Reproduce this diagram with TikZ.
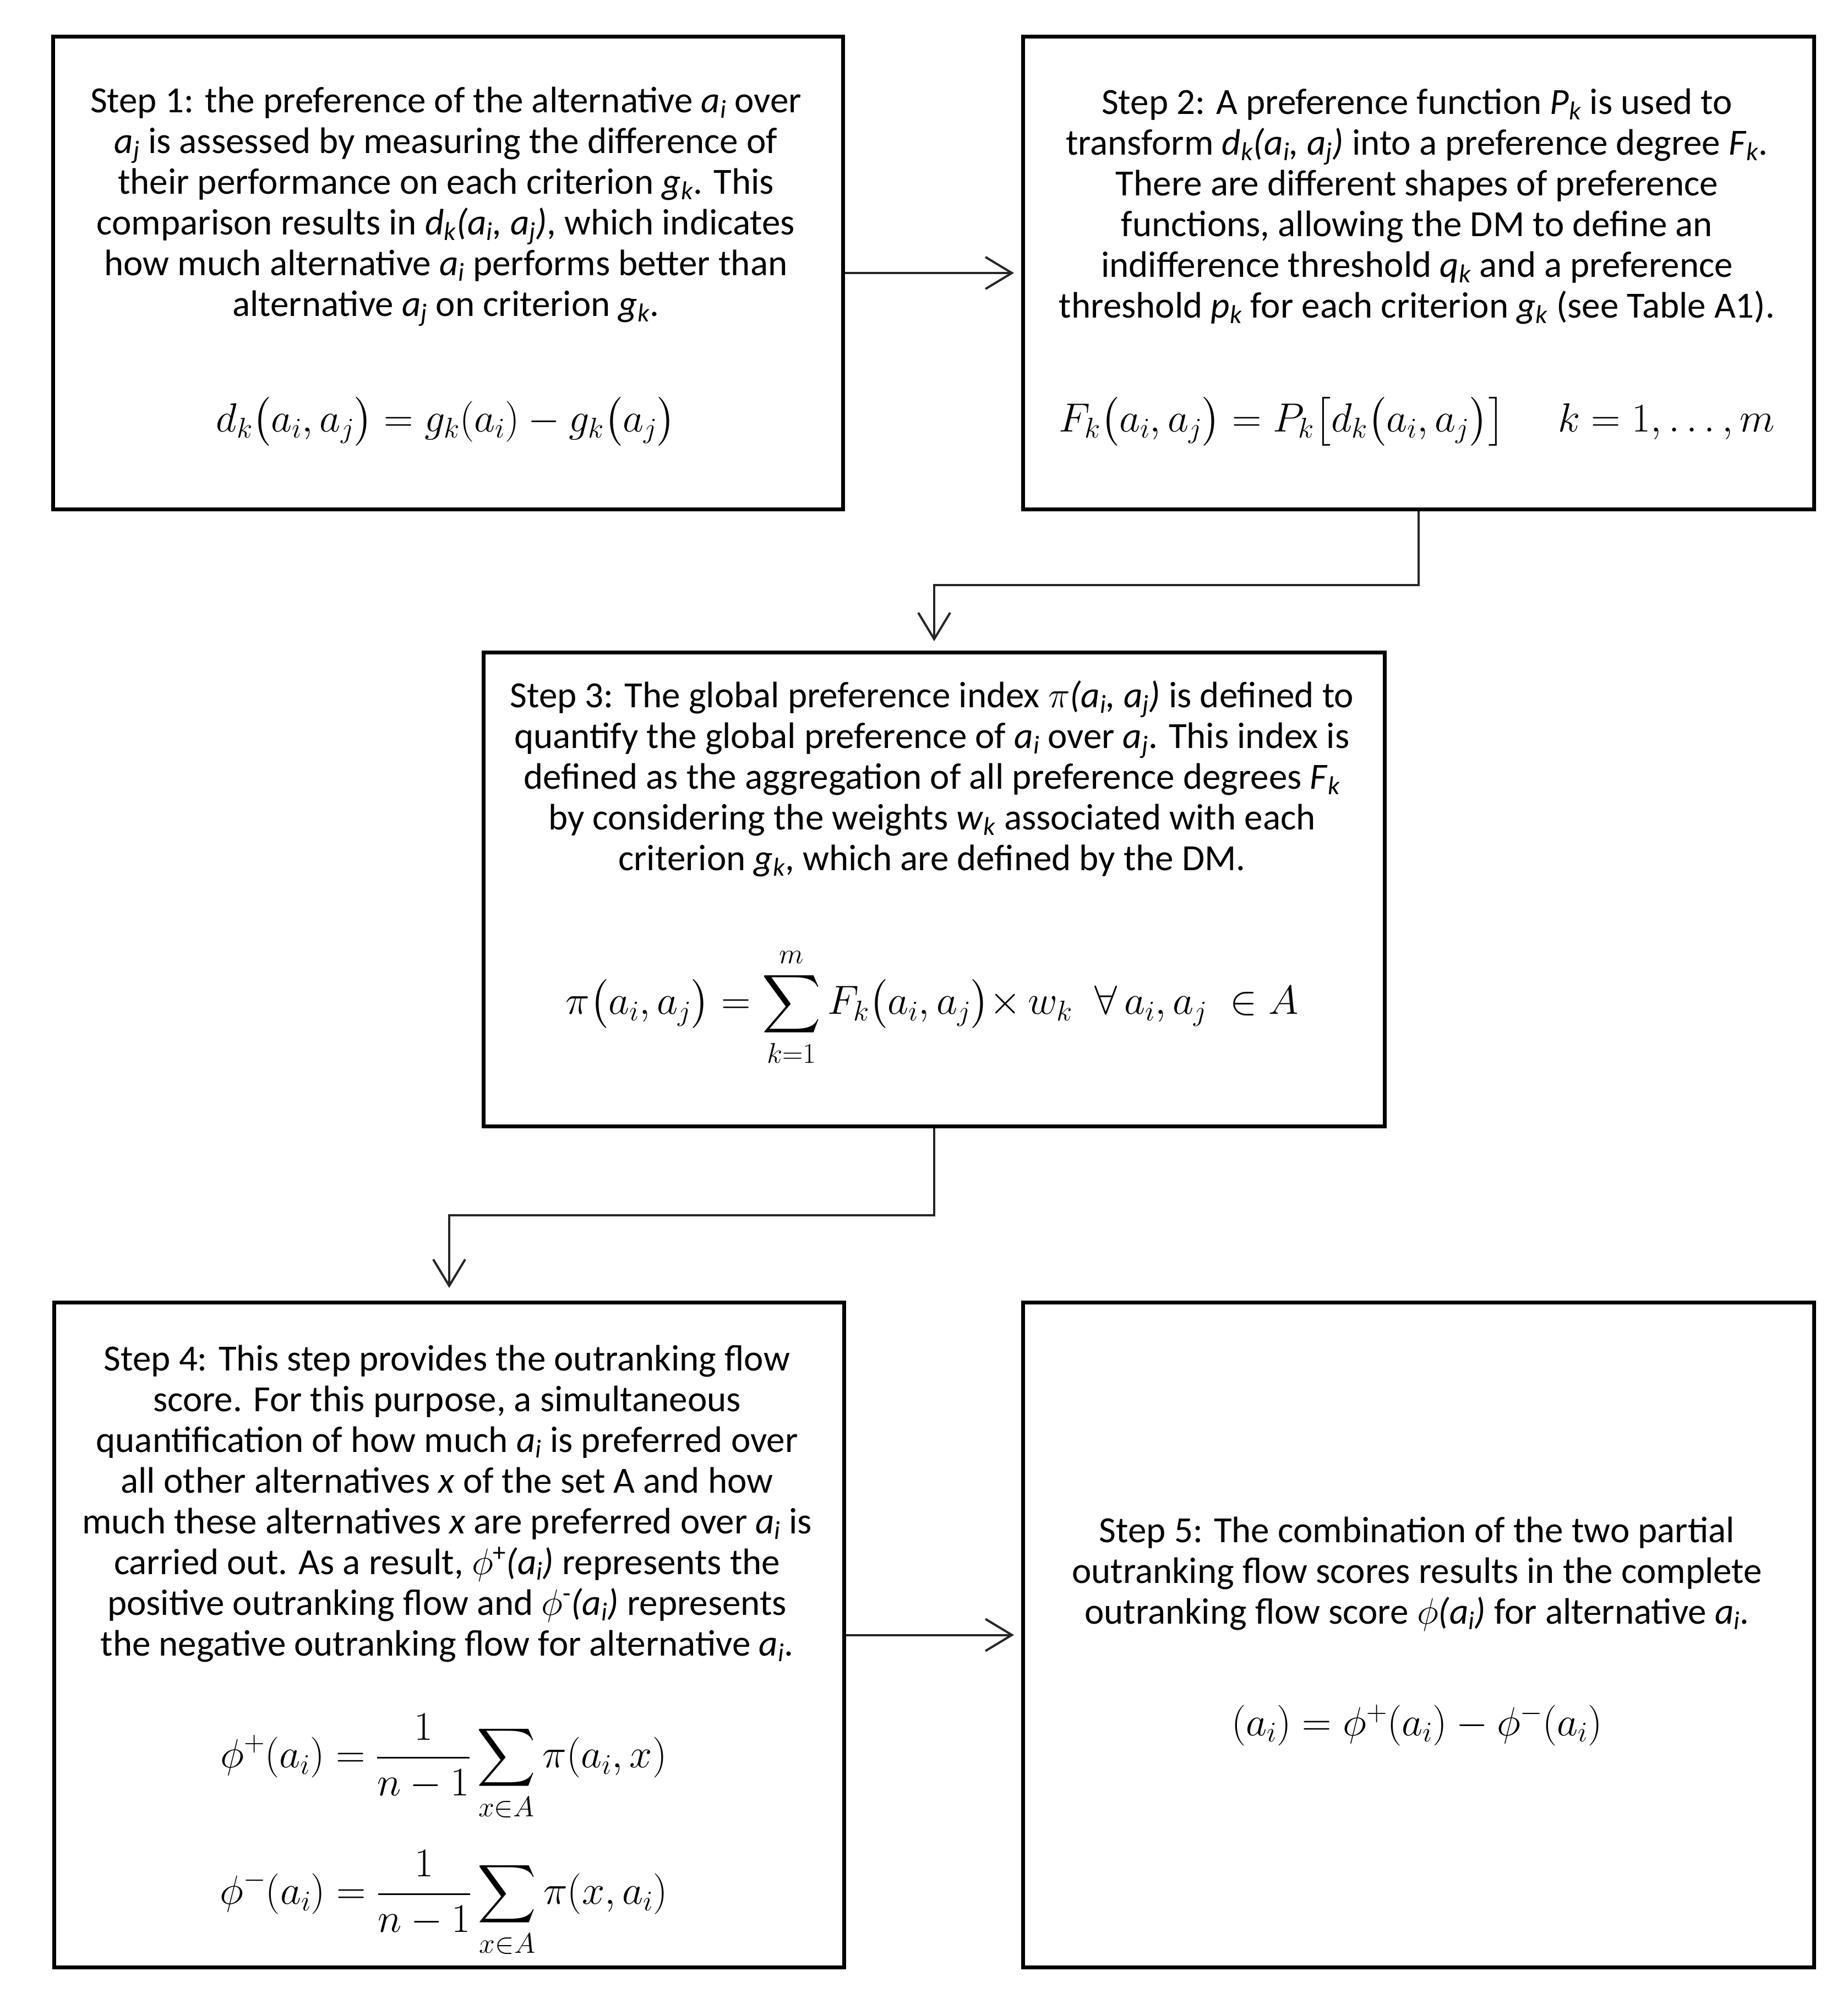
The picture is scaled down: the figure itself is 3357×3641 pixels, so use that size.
\documentclass[tikz,border=0pt]{standalone}
\usepackage{fix-cm}
\usepackage{exscale}
\usepackage{amsmath}
\usepackage[no-math]{fontspec}
\setmainfont{Carlito}
\DeclareFontShape{OMX}{cmex}{m}{n}{<-> cmex10}{}
\usetikzlibrary{arrows.meta}
\newcommand\iv[2]{\textit{#1}\textsubscript{\textit{#2}}}
\newcommand\ivp[2]{\textit{(a\textsubscript{#1}, a\textsubscript{#2})}}
\tikzset{
  box/.style={draw, line width=7pt, inner sep=0pt, anchor=north west},
  txt/.style={align=center, font=\fontsize{67}{74}\selectfont, inner sep=0pt},
  frm/.style={font=\fontsize{74}{88}\selectfont, inner sep=0pt},
  conn/.style={draw=black!85, line width=4pt, -{Straight Barb[length=48pt,width=58pt,line width=4pt]}},
}
\begin{document}
\begin{tikzpicture}[x=1pt,y=-1pt]
\useasboundingbox[fill=white] (0,0) rectangle (3357,3641);
% boxes
\node[box, minimum width=1435pt, minimum height=859pt] (b1) at (93,63) {};
\node[box, minimum width=1437pt, minimum height=859pt] (b2) at (1855,63) {};
\node[box, minimum width=1637pt, minimum height=861pt] (b3) at (875,1182) {};
\node[box, minimum width=1435pt, minimum height=1208pt] (b4) at (95,2363) {};
\node[box, minimum width=1437pt, minimum height=1208pt] (b5) at (1855,2363) {};
% texts
\node[txt] (t1) at (810,375) {Step 1: the preference of the alternative \iv{a}{i} over\\
\iv{a}{j} is assessed by measuring the difference of\\
their performance on each criterion \iv{g}{k}. This\\
comparison results in \iv{d}{k}\ivp{i}{j}, which indicates\\
how much alternative \iv{a}{i} performs better than\\
alternative \iv{a}{j} on criterion \iv{g}{k}.};
\node[txt] (t2) at (2574,375) {Step 2: A preference function \iv{P}{k} is used to\\
transform \iv{d}{k}\ivp{i}{j} into a preference degree \iv{F}{k}.\\
There are different shapes of preference\\
functions, allowing the DM to define an\\
indifference threshold \iv{q}{k} and a preference\\
threshold \iv{p}{k} for each criterion \iv{g}{k} (see Table A1).};
\node[txt] (t3) at (1693,1415) {Step 3: The global preference index $\pi$\ivp{i}{j} is defined to\\
quantify the global preference of \iv{a}{i} over \iv{a}{j}. This index is\\
defined as the aggregation of all preference degrees \iv{F}{k}\\
by considering the weights \iv{w}{k} associated with each\\
criterion \iv{g}{k}, which are defined by the DM.};
\node[txt] (t4) at (812,2732) {Step 4: This step provides the outranking flow\\
score. For this purpose, a simultaneous\\
quantification of how much \iv{a}{i} is preferred over\\
all other alternatives \textit{x} of the set A and how\\
much these alternatives \textit{x} are preferred over \iv{a}{i} is\\
carried out. As a result, $\phi$\textsuperscript{+}\textit{(a\textsubscript{i})} represents the\\
positive outranking flow and $\phi$\textsuperscript{-}\textit{(a\textsubscript{i})} represents\\
the negative outranking flow for alternative \iv{a}{i}.};
\node[txt] (t5) at (2574,2860) {Step 5: The combination of the two partial\\
outranking flow scores results in the complete\\
outranking flow score $\phi$\textit{(a\textsubscript{i})} for alternative \iv{a}{i}.};
% formulas
\node[frm] (f1) at (810,766) {$d_k\bigl(a_i,a_j\bigr) = g_k(a_i) - g_k\bigl(a_j\bigr)$};
\node[frm] (f2) at (2574,766) {$F_k\bigl(a_i,a_j\bigr) = P_k\bigl[d_k\bigl(a_i,a_j\bigr)\bigr]\hspace{1.3em}k = 1,\dots,m$};
\node[frm] (f3) at (1693,1830) {$\displaystyle \pi\bigl(a_i,a_j\bigr) = \sum_{k=1}^{m} F_k\bigl(a_i,a_j\bigr){\times}\,w_k \;\;\forall\, a_i,a_j\;\in A$};
\node[frm] (f4a) at (806,3212) {$\displaystyle \phi^{+}(a_i) = \frac{1}{n-1}\sum_{x\in A}\pi(a_i,x)$};
\node[frm] (f4b) at (806,3460) {$\displaystyle \phi^{-}(a_i) = \frac{1}{n-1}\sum_{x\in A}\pi(x,a_i)$};
\node[frm] (f5) at (2574,3134) {$(a_i) = \phi^{+}(a_i) - \phi^{-}(a_i)$};
% connectors
\draw[conn] (b1.east) -- ([xshift=-13pt]b2.west);
\draw[conn] (b2.south) -- ++(0,134) -| ([yshift=17pt]b3.north);
\draw[conn] (b3.south) -- ++(0,158) -| ([yshift=23pt]b4.north);
\draw[conn] (b4.east) -- ([xshift=-13pt]b5.west);
\end{tikzpicture}
\end{document}
